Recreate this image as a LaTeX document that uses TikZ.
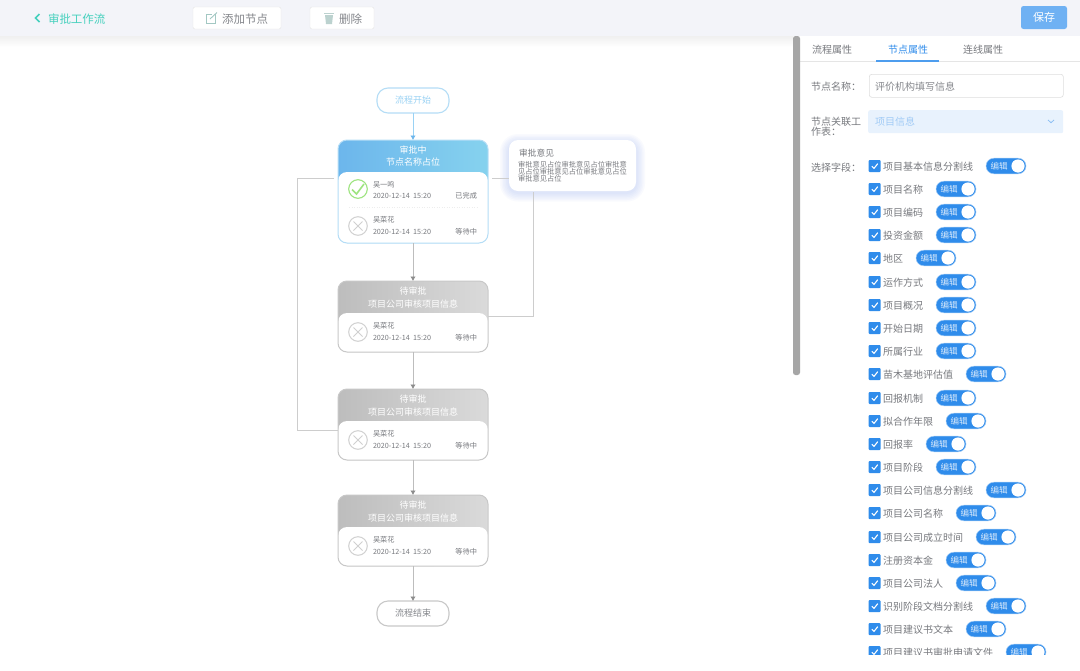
\documentclass[tikz,border=0pt]{standalone}
\usepackage{fontspec}
\setmainfont{Noto Sans CJK SC}
\usetikzlibrary{arrows.meta,shapes.misc}
\definecolor{barbg}{HTML}{F3F4F9}
\definecolor{teal1}{HTML}{45D0BD}
\definecolor{txtg}{HTML}{77797E}
\definecolor{txtd}{HTML}{85878C}
\definecolor{lineg}{HTML}{CDCDCD}
\definecolor{lined}{HTML}{BDBDBD}
\definecolor{blueb}{HTML}{B5DDF6}
\definecolor{bluea}{HTML}{9AD2F4}
\definecolor{tblue}{HTML}{2F8CEB}
\definecolor{headl}{HTML}{6CB6EC}
\definecolor{headr}{HTML}{86D2EE}
\definecolor{grayl}{HTML}{BDBDBD}
\definecolor{grayr}{HTML}{DADADA}
\definecolor{grayb}{HTML}{C8C8C8}
\definecolor{okgreen}{HTML}{9EE480}
\definecolor{glow}{HTML}{7C9DF5}
\newcommand{\fs}[1]{\fontsize{#1}{#1}\selectfont}
\tikzset{
  x=1pt,y=-1pt,
  lbl/.style={inner sep=0pt,outer sep=0pt,anchor=west,text=txtg,font=\fs{10},yshift=-.7pt},
  ctr/.style={inner sep=0pt,outer sep=0pt,anchor=center,yshift=-.7pt},
  topbtn/.style={draw=black!10,fill=white,rounded corners=2,inner sep=0pt,outer sep=0pt,anchor=north west},
  pill/.style={rectangle,rounded corners=11,inner sep=0pt,outer sep=0pt,minimum width=72,minimum height=25,line width=1.1pt,anchor=center,font=\fs{9}},
  conn/.style={draw=lineg,line width=1pt},
  flowg/.style={draw=lined,line width=.9pt,-{Latex[length=4.5pt,width=5.5pt,color=black!45]}},
  flowb/.style={draw=bluea,line width=.9pt,-{Latex[length=4.5pt,width=5.5pt,color=headl]}},
  card/.style={rectangle,rounded corners=9,inner sep=0pt,outer sep=0pt,minimum width=150,anchor=north west},
  body/.style={rectangle,rounded corners=9,inner sep=0pt,outer sep=0pt,minimum width=150,anchor=north west,fill=white},
  small/.style={inner sep=0pt,outer sep=0pt,font=\fs{7.2},text=txtg,yshift=-.5pt},
  headtxt/.style={inner sep=0pt,outer sep=0pt,font=\fs{9},text=white,anchor=center,yshift=-.5pt},
  optxt/.style={inner sep=0pt,outer sep=0pt,anchor=west,text=txtg,font=\fs{7.25}},
}
\newcommand{\pendrow}[2]{%
  \draw[grayb!85!white,line width=1pt,fill=white] (358,#2) circle (9.3);
  \draw[grayb!85!white,line width=.9pt] (353.5,#2-4.5) -- (362.5,#2+4.5) (353.5,#2+4.5) -- (362.5,#2-4.5);
  \node[small,anchor=west] at (373,#2-6.5) {#1};
  \node[small,anchor=west] at (373,#2+5.5) {2020-12-14\ \ 15:20};
  \node[small,anchor=east] at (477,#2+5.5) {等待中};
}
\begin{document}
\begin{tikzpicture}
\useasboundingbox (0,0) rectangle (1080,670);
\fill[white] (0,0) rectangle (1080,670);
% top bar
\shade[top color=black!6,bottom color=white] (0,36) rectangle (793,47);
\fill[barbg] (0,0) rectangle (1080,36);
\draw[teal1,line width=1.7pt] (39.5,14) -- (35.5,18) -- (39.5,22);
\node[lbl,text=teal1,font=\fs{11.5}] (title) at (48,18) {审批工作流};
\node[topbtn,minimum width=88,minimum height=22] (addb) at (193,7) {};
\node[ctr,text=txtd,font=\fs{11.5},anchor=west] (addt) at (222,18) {添加节点};
\draw[teal1!45!gray!60,line width=.9pt] (215,14) -- (215,23) -- (206,23) -- (206,14) -- (212,14);
\draw[teal1!45!gray!60,line width=.9pt] (210,19) -- (217,12.5);
\node[topbtn,minimum width=64,minimum height=22] (delb) at (310,7) {};
\node[ctr,text=txtd,font=\fs{11.5},anchor=west] (delt) at (339,18) {删除};
\fill[teal1!35!gray!45] (325,15) -- (333,15) -- (332,24) -- (326,24) -- cycle;
\draw[teal1!35!gray!45,line width=.9pt] (324,13.5) -- (334,13.5);
\node[fill={rgb,255:red,111;green,177;blue,243},rounded corners=2.5,minimum width=46,minimum height=23,inner sep=0pt,text=white,font=\fs{11}] (save) at (1044,17.5) {保存};
% cards
\node[pill,draw=blueb,fill=white,text=bluea] (start) at (413,100.5) {\raisebox{-.7pt}{流程开始}};
\node[card,minimum height=103,path picture={\shade[left color=headl,right color=headr] (path picture bounding box.south west) rectangle (path picture bounding box.north east);}] (n1) at (338,140) {};
\node[body,minimum height=71] (b1) at (338,172) {};
\draw[blueb,line width=1pt,rounded corners=9] (338,140) rectangle (488,243);
\node[headtxt] (h1a) at (413,150) {审批中};
\node[headtxt] (h1b) at (413,162) {节点名称占位};
\draw[black!7,dotted,line width=.5pt] (349,207.5) -- (478,207.5);
\draw[okgreen,line width=1.1pt] (358,189) circle (9.3);
\draw[okgreen,line width=1.6pt] (352,189.5) -- (356.5,194) -- (364,184);
\node[small,anchor=west] (u1) at (373,184) {吴一鸣};
\node[small,anchor=west] (d1) at (373,195.5) {2020-12-14\ \ 15:20};
\node[small,anchor=east] (s1) at (477,195.5) {已完成};
\pendrow{吴菜花}{226}
\foreach \nm/\yy in {2/281,3/389,4/495}{
  \node[card,minimum height=71,path picture={\shade[left color=grayl,right color=grayr] (path picture bounding box.south west) rectangle (path picture bounding box.north east);}] (n\nm) at (338,\yy) {};
  \node[body,minimum height=39] (b\nm) at (338,\yy+32) {};
  \draw[grayb,line width=1pt,rounded corners=9] (338,\yy) rectangle (488,\yy+71);
  \node[headtxt] (ha\nm) at (413,\yy+10) {待审批};
  \node[headtxt] (hb\nm) at (413,\yy+23) {项目公司审核项目信息};
  \pendrow{吴菜花}{\yy+51}
}
\node[pill,draw=grayb,fill=white,text=txtd] (end) at (413,613.5) {\raisebox{-.7pt}{流程结束}};
% opinion card with glow
\foreach \g in {9,7.5,6,4.5,3,1.5}{
  \fill[glow,opacity=.045,rounded corners=9+\g] (509-\g,140-\g+3) rectangle (636+\g,191+\g+1.5);
}
\node[rectangle,rounded corners=9,fill=white,minimum width=127,minimum height=51,inner sep=0pt,outer sep=0pt,anchor=north west] (op) at (509,140) {};
\node[inner sep=0pt,anchor=west,text=txtg,font=\fs{8.7},yshift=-.5pt] (opt) at (519,153) {审批意见};
\node[optxt] (opb1) at (518,164.3) {审批意见占位审批意见占位审批意};
\node[optxt] (opb2) at (518,171.7) {见占位审批意见占位审批意见占位};
\node[optxt] (opb3) at (518,179) {审批意见占位};
% connectors
\coordinate (la) at (334,178);
\coordinate (lb) at (297,178);
\coordinate (lc) at (297,430);
\coordinate (ld) at (338,430);
\draw[conn] (la) -- (lb) -- (lc) -- (ld);
\coordinate (ra) at (492,178);
\coordinate (rb) at (509,178);
\draw[conn] (ra) -- (rb);
\coordinate (rc) at (533,192);
\coordinate (rd) at (533,316);
\coordinate (re) at (488,316);
\draw[conn] (rc) -- (rd) -- (re);
\draw[flowb] (start.south) -- (n1.north);
\draw[flowg] (b1.south) -- (n2.north);
\draw[flowg] (b2.south) -- (n3.north);
\draw[flowg] (b3.south) -- (n4.north);
\draw[flowg] (b4.south) -- (end.north);
% right panel
\fill[white] (800,37) rectangle (1080,670);
\draw[black!10,line width=.6pt] (800,61) -- (1080,61);
\draw[tblue!85!white,line width=1.1pt] (876,61) -- (939,61);
\fill[black!35,rounded corners=2.5] (793,36) rectangle (800,375);
\node[ctr,text=txtg] (t1) [font=\fs{10}] at (832,49) {流程属性};
\node[ctr,text=tblue] (t2) [font=\fs{10}] at (908,49) {节点属性};
\node[ctr,text=txtg] (t3) [font=\fs{10}] at (983,49) {连线属性};
\node[lbl] (l1) at (811,86) {节点名称：};
\node[lbl] (l2a) at (811,121) {节点关联工};
\node[lbl] (l2b) at (811,131) {作表：};
\node[lbl] (l3) at (811,167) {选择字段：};
\node[draw=black!13,rounded corners=2.5,inner sep=0pt,minimum width=194,minimum height=23,anchor=north west,line width=.6pt] (inp) at (869,74) {};
\node[lbl,text=txtd] (inpt) at (875,86) {评价机构填写信息};
\node[fill=tblue!11!white,rounded corners=2,inner sep=0pt,minimum width=195,minimum height=23,anchor=north west] (sel) at (868,110) {};
\node[lbl,text=tblue!45!white] (selt) at (875,121) {项目信息};
\draw[tblue!55!white,line width=.8pt] (1048,120) -- (1051,122.7) -- (1054,120);
% fields
\foreach \yy/\n/\tx in {
 166/9/项目基本信息分割线,189/4/项目名称,212/4/项目编码,235/4/投资金额,258/2/地区,
 282/4/运作方式,305/4/项目概况,328/4/开始日期,351/4/所属行业,374/7/苗木基地评估值,
 398/4/回报机制,421/5/拟合作年限,444/3/回报率,467/4/项目阶段,490/9/项目公司信息分割线,
 513/6/项目公司名称,537/8/项目公司成立时间,560/5/注册资本金,583/6/项目公司法人,
 606/9/识别阶段文档分割线,629/7/项目建议书文本,652/11/项目建议书审批申请文件}{
  \fill[tblue,rounded corners=1] (868.5,\yy-6) rectangle (880.5,\yy+6);
  \draw[white,line width=1.1pt] (871.8,\yy+.2) -- (874,\yy+2.4) -- (877.8,\yy-2.4);
  \node[lbl,text=txtg] at (883,\yy) {\tx};
  \pgfmathsetmacro{\tg}{883+10*\n+13}
  \fill[tblue,draw=tblue!45!white,line width=.5pt,rounded corners=7.8] (\tg,\yy-7.8) rectangle (\tg+40,\yy+7.8);
  \fill[white] (\tg+32,\yy) circle (6.6);
  \node[ctr,text=white!82!tblue,font=\fs{8.5}] at (\tg+13,\yy) {编辑};
}
\fill[white] (801,655) rectangle (1080,670);
\end{tikzpicture}
\end{document}
